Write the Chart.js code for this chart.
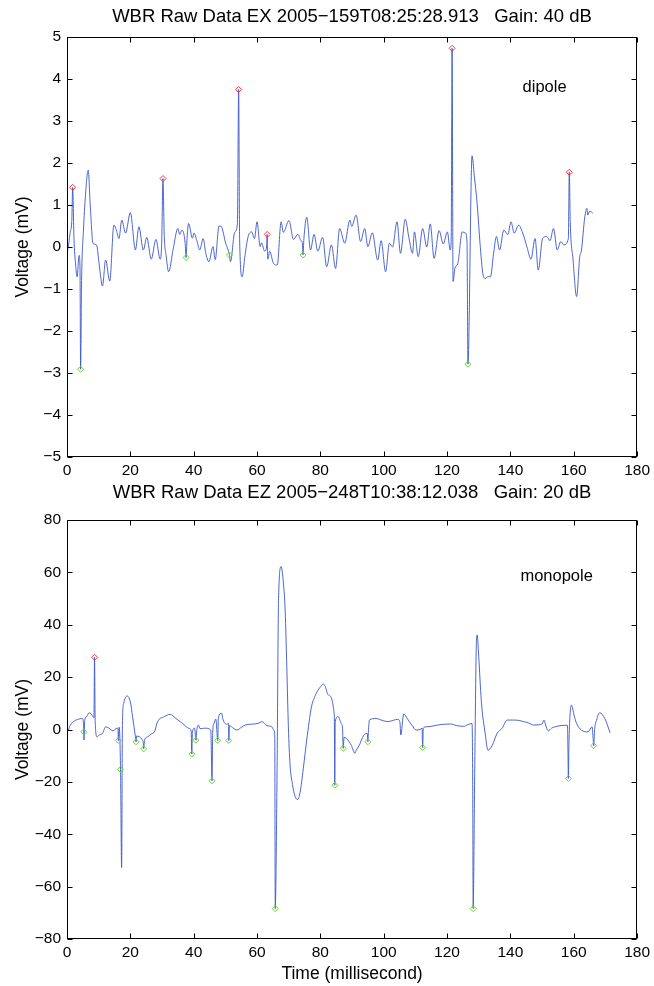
<!DOCTYPE html>
<html>
<head>
<meta charset="utf-8">
<script src="https://cdn.jsdelivr.net/npm/chart.js@4.4.1/dist/chart.umd.min.js"></script>
<style>
  html, body { margin: 0; padding: 0; background: #fff; }
  #wrap { position: relative; width: 654px; height: 986px; }
  canvas { position: absolute; left: 0; }
  #exChart { top: 0; }
  #ezChart { top: 480px; }
</style>
</head>
<body>
<div id="wrap">
  <canvas id="exChart" width="654" height="480"></canvas>
  <canvas id="ezChart" width="654" height="506"></canvas>
</div>
<script>
// data: [time ms, voltage mV]
const exSignal = [
  [0.0,-0.15],[0.6,0.1],[1.0,0.35],[1.5,0.6],[1.8,1.42],[2.2,0.2],[2.7,-0.4],[3.2,-0.71],[3.8,-0.2],[4.1,-0.5],
  [4.3,-2.91],[4.6,-0.8],[5.2,0.4],[5.8,1.2],[6.7,1.83],[7.4,0.9],[8.2,0.09],[9.3,0.05],[10.3,-0.5],[11.2,-0.93],
  [12.2,-0.31],[13.5,-0.81],[14.8,0.52],[15.6,0.4],[16.4,0.2],[17.3,0.64],[18.5,0.33],[20.0,0.82],[21.6,-0.07],[22.7,0.48],
  [24.1,-0.07],[25.2,0.23],[26.6,-0.29],[28.1,0.18],[29.4,-0.29],[29.9,0.1],[30.3,1.63],[30.7,0.3],[31.3,-0.2],[32.1,-0.59],
  [33.5,-0.06],[35.0,0.44],[35.6,0.3],[36.3,0.4],[37.3,0.1],[37.6,-0.25],[37.9,0.2],[38.4,0.56],[39.6,0.21],[40.1,0.33],
  [41.0,0.15],[41.9,-0.07],[43.0,0.2],[43.8,-0.14],[44.8,-0.35],[46.1,0.01],[46.8,-0.3],[48.0,0.5],[48.7,0.49],[50.1,0.09],
  [51.0,-0.1],[51.3,-0.19],[51.6,-0.35],[53.0,0.36],[53.8,0.55],[54.2,3.75],[54.5,0.2],[55.3,-0.71],[56.2,-0.2],[57.2,0.25],
  [58.3,0.36],[59.2,0.2],[60.0,0.6],[61.0,0.01],[61.4,0.1],[62.4,-0.1],[63.0,0.0],[63.2,0.3],[63.4,-0.29],[64.0,-0.1],
  [65.2,-0.39],[66.4,-0.43],[67.6,0.6],[68.3,0.35],[70.1,0.63],[71.5,0.18],[72.9,0.3],[73.9,0.15],[74.3,0.1],[74.5,-0.19],
  [74.8,0.2],[75.7,0.71],[76.9,-0.07],[78.0,0.3],[79.2,-0.1],[80.7,0.23],[82.0,-0.47],[83.5,0.05],[84.8,-0.51],[86.1,0.44],
  [87.7,0.09],[89.3,0.64],[89.9,0.49],[91.3,0.76],[92.7,0.13],[94.0,0.44],[95.0,0.01],[96.4,0.34],[98.1,-0.31],[99.2,0.15],
  [100.6,-0.59],[101.8,0.09],[102.8,0.0],[104.2,0.6],[105.3,-0.15],[106.8,0.66],[108.0,0.2],[109.1,-0.15],[109.7,0.36],[110.9,-0.23],
  [112.3,0.44],[113.6,0.0],[114.7,0.55],[115.9,-0.27],[117.5,0.39],[118.8,0.07],[120.1,0.36],[121.0,-0.07],[121.3,0.1],[121.6,4.73],
  [121.9,-0.82],[122.5,-0.5],[123.4,-0.39],[124.8,0.36],[125.8,0.33],[126.3,0.13],[126.6,-2.79],[127.9,2.17],[128.6,1.7],[129.5,1.04],
  [130.4,0.1],[131.3,-0.63],[132.1,-0.75],[133.0,-0.7],[133.7,-0.71],[134.7,-0.15],[135.6,0.25],[136.6,-0.07],[137.9,0.4],[139.2,0.3],
  [140.2,0.6],[141.2,0.33],[142.6,0.52],[143.9,0.33],[145.2,0.01],[146.5,-0.29],[147.8,0.2],[148.8,-0.55],[150.2,0.21],[151.5,0.25],
  [152.5,0.15],[153.6,0.44],[154.8,-0.07],[155.9,0.13],[156.9,0.05],[158.3,0.2],[158.6,1.78],[158.9,0.6],[159.8,-0.31],[160.9,-1.18],
  [161.9,-0.23],[162.4,-0.1],[163.5,0.72],[164.2,0.92],[164.4,0.76],[165.0,0.85],[165.6,0.84],[165.9,0.8]
];
const exMaxima = [[1.8,1.42],[30.3,1.63],[54.2,3.75],[63.2,0.3],[121.6,4.73],[158.6,1.78]];
const exMinima = [[4.3,-2.91],[37.6,-0.25],[51.3,-0.19],[74.5,-0.19],[126.6,-2.79]];

const ezSignal = [
  [0.0,-0.5],[0.4,-0.2],[1.0,1.5],[2.0,3.0],[3.3,3.8],[4.6,4.2],[5.0,4.0],[5.3,-0.9],[5.35,-4.0],[5.6,3.5],
  [6.2,4.9],[7.0,6.4],[8.2,5.0],[8.5,4.5],[8.7,27.6],[8.9,3.0],[9.5,-2.8],[10.3,-2.0],[11.2,-1.5],[12.2,1.0],
  [13.3,0.5],[14.5,-0.5],[15.8,0.5],[16.1,0.3],[16.2,-4.2],[16.5,0.9],[16.9,-15.3],[17.25,-52.7],[17.5,2.0],[17.9,10.0],
  [18.9,12.8],[20.0,10.5],[20.7,4.9],[21.6,-2.8],[21.8,-4.7],[22.0,-2.5],[22.9,-2.8],[23.8,-4.0],[24.1,-5.1],[24.2,-7.4],
  [24.5,-4.0],[25.5,-2.8],[26.6,-1.7],[27.6,-0.9],[28.6,3.0],[30.7,4.9],[32.6,5.8],[34.4,4.2],[36.5,2.3],[38.6,0.4],
  [39.2,-0.5],[39.4,-9.4],[39.6,-1.0],[40.3,0.5],[40.7,-4.1],[41.0,0.0],[41.5,1.7],[42.0,0.3],[43.5,0.5],[45.4,-0.2],
  [45.8,-19.6],[46.0,-1.0],[46.4,2.3],[47.0,4.0],[47.6,-4.2],[47.8,4.5],[48.8,6.2],[49.3,3.6],[50.5,2.0],[51.0,2.3],
  [51.1,-4.2],[51.3,1.5],[52.5,0.5],[53.7,-0.2],[55.0,0.8],[56.3,1.7],[58.9,2.1],[60.3,2.3],[61.6,3.0],[63.1,1.5],
  [64.7,1.0],[65.3,-0.2],[65.6,-2.0],[65.75,-68.4],[66.3,-20.0],[66.8,50.0],[67.6,62.2],[68.4,55.0],[68.9,45.0],[69.4,24.0],
  [69.9,1.0],[70.4,-13.0],[71.2,-21.0],[72.0,-25.5],[72.8,-26.7],[73.6,-24.0],[74.6,-15.0],[75.7,-4.0],[77.2,8.7],[78.2,12.5],
  [79.3,15.1],[80.2,16.5],[80.9,17.4],[81.5,16.5],[82.5,13.2],[84.4,5.5],[84.55,-21.3],[84.7,3.0],[85.6,4.9],[86.6,2.3],
  [87.0,0.5],[87.2,-7.2],[87.5,-3.0],[88.2,-3.4],[89.8,-6.1],[90.9,-9.1],[91.3,-8.0],[92.3,-6.0],[93.6,-2.4],[94.8,-1.5],
  [95.0,-4.7],[95.2,0.0],[95.5,3.6],[97.6,4.2],[99.5,3.5],[101.3,3.0],[103.0,3.5],[104.4,3.9],[105.1,3.0],[105.4,-2.1],
  [106.3,5.9],[107.6,3.9],[109.0,1.5],[110.2,-0.2],[111.5,0.0],[112.1,0.5],[112.3,-6.9],[112.5,0.5],[113.3,1.0],[115.0,1.2],
  [117.0,1.7],[119.0,2.0],[121.1,2.1],[123.0,1.5],[125.3,1.2],[126.5,1.8],[127.9,2.3],[128.1,-20.0],[128.25,-68.4],[128.7,-20.0],
  [129.2,30.0],[129.5,36.1],[130.0,28.0],[130.8,11.2],[132.1,-2.0],[132.9,-7.9],[134.3,-6.0],[135.8,-1.5],[137.4,0.5],[139.0,3.6],
  [141.0,3.6],[142.5,3.5],[144.2,3.0],[145.8,2.5],[147.3,1.7],[149.0,1.8],[150.0,2.1],[150.6,3.6],[151.3,1.0],[152.0,-0.5],
  [153.0,0.5],[154.0,1.0],[156.0,1.5],[158.0,1.6],[158.2,-10.0],[158.3,-18.7],[158.5,-5.0],[158.8,5.0],[159.3,9.3],[160.1,5.5],
  [160.9,2.3],[162.4,-0.2],[164.5,-0.9],[165.8,1.0],[166.1,-3.0],[166.3,-6.2],[166.6,0.0],[167.2,3.5],[168.2,6.4],[169.8,4.2],
  [171.5,-1.3]
];
const ezMaxima = [[8.7,27.6]];
const ezMinima = [
  [5.3,-0.9],[16.2,-4.2],[16.9,-15.3],[21.8,-4.7],[24.2,-7.4],[39.4,-9.4],[40.7,-4.1],[45.8,-19.6],[47.6,-4.2],
  [51.1,-4.2],[65.75,-68.4],[84.55,-21.3],[87.2,-7.2],[95.0,-4.7],[112.3,-6.9],[128.25,-68.4],[158.3,-18.7],[166.3,-6.2]
];

const xTicks = [0, 180, 20];
const exYTicks = [-5, 5, 1];
const ezYTicks = [-80, 80, 20];

const exTitle = "WBR Raw Data EX 2005\u2212159T08:25:28.913   Gain: 40 dB";
const ezTitle = "WBR Raw Data EZ 2005\u2212248T10:38:12.038   Gain: 20 dB";

const FONT = "'Liberation Sans', Arial, Helvetica, sans-serif";

const toPoints = arr => arr.map(p => ({x: p[0], y: p[1]}));

// box round the axes with inward ticks, the title over the axes, and the text note
const framePlugin = {
    id: "frame",
    afterDatasetsDraw(chart, args, opts) {
        const {ctx, chartArea: a, scales} = chart;
        const x = scales.x, y = scales.y;
        const L = Math.round(a.left) + 0.5, R = Math.round(a.right) - 0.5;
        const T = Math.round(a.top) + 0.5, B = Math.round(a.bottom) - 0.5;
        ctx.save();
        ctx.strokeStyle = "#000";
        ctx.lineWidth = 1;
        ctx.beginPath();
        x.ticks.forEach(t => {
            const px = Math.round(x.getPixelForValue(t.value)) + 0.5;
            ctx.moveTo(px, B); ctx.lineTo(px, B - 5);
            ctx.moveTo(px, T); ctx.lineTo(px, T + 5);
        });
        y.ticks.forEach(t => {
            const py = Math.round(y.getPixelForValue(t.value)) + 0.5;
            ctx.moveTo(L, py); ctx.lineTo(L + 5, py);
            ctx.moveTo(R, py); ctx.lineTo(R - 5, py);
        });
        ctx.stroke();
        ctx.strokeRect(L, T, R - L, B - T);

        ctx.fillStyle = "#000";
        ctx.textAlign = "center";
        ctx.textBaseline = "middle";
        ctx.font = "18.5px " + FONT;
        ctx.fillText(opts.title, (a.left + a.right) / 2, opts.titleY);

        ctx.font = "16.5px " + FONT;
        ctx.fillText(opts.note, x.getPixelForValue(opts.at[0]), y.getPixelForValue(opts.at[1]));
        ctx.restore();
    }
};

function markerSet(pairs, color) {
    return {
        data: toPoints(pairs),
        showLine: false,
        pointStyle: "rectRot",
        pointRadius: 3,
        pointBorderWidth: 1,
        pointBorderColor: color,
        pointBackgroundColor: "rgba(0,0,0,0)",
        order: 0,
    };
}

function buildChart(id, o) {
    const minus = v => String(v).replace("-", "\u2212");
    return new Chart(document.getElementById(id), {
        type: "line",
        data: {
            datasets: [
                markerSet(o.maxima, "#f23a3a"),
                markerSet(o.minima, "#6ccf38"),
                {
                    data: toPoints(o.signal),
                    borderColor: "#3956c9",
                    borderWidth: 0.9,
                    pointRadius: 0,
                    cubicInterpolationMode: "monotone",
                    order: 1,
                },
            ],
        },
        options: {
            responsive: false,
            animation: false,
            events: [],
            layout: {padding: {left: 0, right: 13, top: o.top, bottom: 0}},
            plugins: {
                legend: {display: false},
                tooltip: {enabled: false},
                frame: {title: o.title, titleY: o.titleY, note: o.note, at: o.noteAt},
            },
            scales: {
                x: {
                    type: "linear",
                    min: xTicks[0], max: xTicks[1],
                    grid: {display: false, drawTicks: false},
                    border: {display: false},
                    ticks: {stepSize: xTicks[2], autoSkip: false, maxRotation: 0, padding: 4,
                        color: "#000", font: {family: FONT, size: 15.5}},
                    title: {display: !!o.xLabel, text: o.xLabel, color: "#000",
                        font: {family: FONT, size: 17.5}, padding: {top: 0, bottom: 1}},
                    afterFit: s => { s.height = o.xHeight; },
                },
                y: {
                    min: o.yTicks[0], max: o.yTicks[1],
                    grid: {display: false, drawTicks: false},
                    border: {display: false},
                    ticks: {stepSize: o.yTicks[2], padding: 6, color: "#000",
                        font: {family: FONT, size: 15.5}, callback: minus},
                    title: {display: true, text: "Voltage (mV)", color: "#000",
                        font: {family: FONT, size: 17.5}, padding: {top: 13, bottom: 0}},
                    afterFit: s => { s.width = 67; },
                },
            },
        },
        plugins: [framePlugin],
    });
}

buildChart("exChart", {
    signal: exSignal, maxima: exMaxima, minima: exMinima,
    title: exTitle, titleY: 17, top: 37,
    yTicks: exYTicks, xHeight: 23, xLabel: "",
    note: "dipole", noteAt: [150.8, 3.81],
});

buildChart("ezChart", {
    signal: ezSignal, maxima: ezMaxima, minima: ezMinima,
    title: ezTitle, titleY: 13, top: 40,
    yTicks: ezYTicks, xHeight: 47, xLabel: "Time (millisecond)",
    note: "monopole", noteAt: [154.6, 58.3],
});
</script>
</body>
</html>
